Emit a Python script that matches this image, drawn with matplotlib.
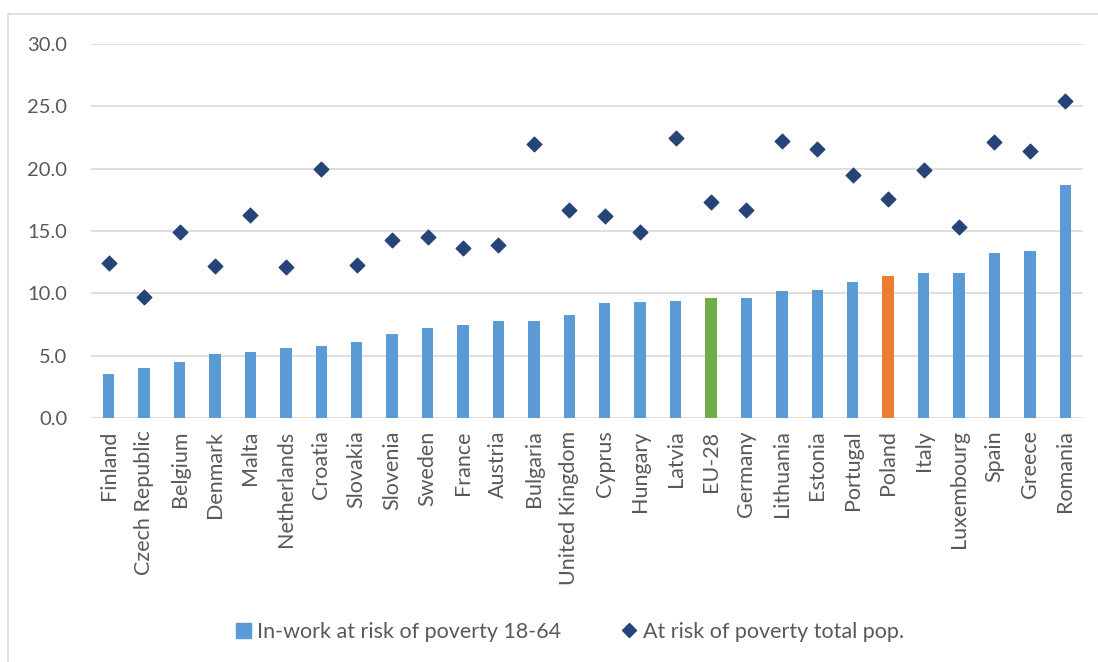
import matplotlib
matplotlib.use("Agg")
import matplotlib.pyplot as plt
from matplotlib.patches import Rectangle
from matplotlib.lines import Line2D
from matplotlib.patches import Patch

plt.rcParams["font.family"] = ["Lato", "DejaVu Sans"]

countries = ["Finland", "Czech Republic", "Belgium", "Denmark", "Malta", "Netherlands",
             "Croatia", "Slovakia", "Slovenia", "Sweden", "France", "Austria", "Bulgaria",
             "United Kingdom", "Cyprus", "Hungary", "Latvia", "EU-28", "Germany",
             "Lithuania", "Estonia", "Portugal", "Poland", "Italy", "Luxembourg",
             "Spain", "Greece", "Romania"]
in_work = [3.5, 4.0, 4.5, 5.1, 5.3, 5.6, 5.8, 6.1, 6.7, 7.2, 7.5, 7.8, 7.8,
           8.3, 9.2, 9.3, 9.4, 9.6, 9.6, 10.2, 10.3, 10.9, 11.4, 11.6, 11.6,
           13.2, 13.4, 18.7]
total_pop = [12.4, 9.7, 14.9, 12.2, 16.3, 12.1, 20.0, 12.3, 14.3, 14.5, 13.6, 13.9, 22.0,
             16.7, 16.2, 14.9, 22.5, 17.3, 16.7, 22.2, 21.6, 19.5, 17.6, 19.9, 15.3,
             22.1, 21.4, 25.4]

blue = "#5b9bd5"
colors = []
for c in countries:
    if c == "EU-28":
        colors.append("#70ad47")
    elif c == "Poland":
        colors.append("#ed7d31")
    else:
        colors.append(blue)

fig = plt.figure(figsize=(10.98, 6.62), dpi=100)
fig.patches.append(Rectangle((8 / 1098, -0.01), 1.1, 1 - 14 / 662 + 0.01,
                             transform=fig.transFigure, fill=False,
                             edgecolor="#d9d9d9", linewidth=1.2))
ax = fig.add_axes([91 / 1098, 1 - 418 / 662, (1083 - 91) / 1098, (418 - 44) / 662])

x = list(range(len(countries)))
ax.bar(x, in_work, width=0.32, color=colors, zorder=2)
ax.scatter(x, total_pop, marker="D", s=55, color="#264478", zorder=3)

ax.set_ylim(0, 30)
ax.set_xlim(-0.5, len(countries) - 0.5)
ax.set_yticks([0, 5, 10, 15, 20, 25, 30])
ax.set_yticklabels([f"{v:.1f}" for v in [0, 5, 10, 15, 20, 25, 30]])
ax.set_xticks(x)
ax.set_xticklabels(countries, rotation=90)
ax.tick_params(axis="both", length=0, colors="#595959")
ax.tick_params(axis="y", labelsize=14.5, pad=17)
ax.tick_params(axis="x", labelsize=15.5, pad=9)
ax.grid(axis="y", color="#d9d9d9", linewidth=1.2, zorder=0)
for s in ax.spines.values():
    s.set_visible(False)

handles = [Patch(color=blue, label="In-work at risk of poverty 18-64"),
           Line2D([], [], marker="D", color="#264478", linestyle="none",
                  markersize=7, label="At risk of poverty total pop.")]
fig.legend(handles=handles, loc="center", bbox_to_anchor=(570 / 1098, 1 - 632 / 662),
           ncol=2, frameon=False, fontsize=15.5, handlelength=0.7,
           handletextpad=0.3, columnspacing=2.8, labelcolor="#595959")

plt.savefig("out.png", dpi=100)
